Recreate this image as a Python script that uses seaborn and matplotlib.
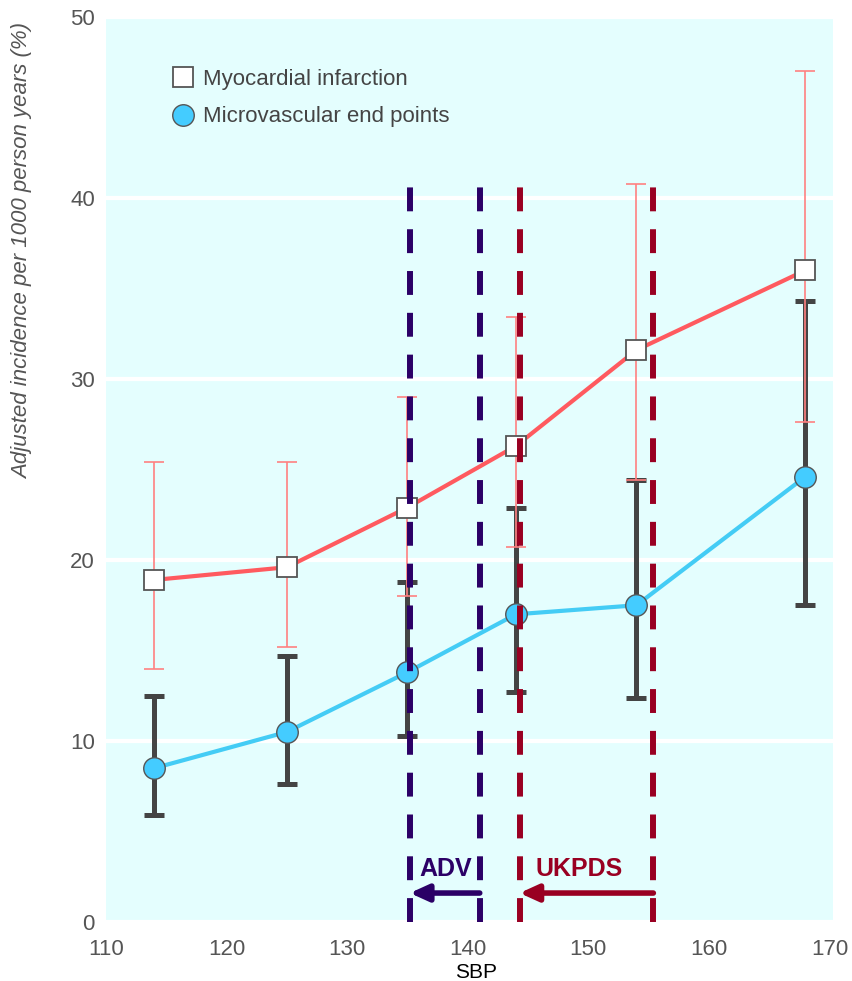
import pandas as pd
import matplotlib.pyplot as plt
import seaborn as sns

# values
sbp = [114, 125, 135, 144, 154, 168]
mi = [18.9, 19.6, 22.9, 26.3, 31.6, 36.0]
mi_low = [14.0, 15.2, 18.0, 20.7, 24.4, 27.6]
mi_high = [25.4, 25.4, 29.0, 33.4, 40.8, 47.0]
micro = [8.5, 10.5, 13.8, 17.0, 17.5, 24.6]
micro_low = [5.9, 7.6, 10.3, 12.7, 12.4, 17.5]
micro_high = [12.5, 14.7, 18.8, 22.9, 24.4, 34.3]

adv_range = [135.2, 141.0]
ukpds_range = [144.3, 155.4]

df = pd.DataFrame({'SBP': sbp, 'MI': mi, 'Micro': micro})

sns.set_style('white')
plt.rcParams['font.family'] = ['Liberation Sans', 'DejaVu Sans']

fig = plt.figure(figsize=(8.52, 9.81), dpi=100)
ax = fig.add_axes([106 / 852, 1 - 922 / 981, 727 / 852, 905 / 981])
ax.set_facecolor('#e4fefe')

# error bars
ax.errorbar(sbp, micro, yerr=[[m - l for m, l in zip(micro, micro_low)],
                              [h - m for m, h in zip(micro, micro_high)]],
            fmt='none', ecolor='#444444', elinewidth=3.6, capsize=7.5, capthick=3.6, zorder=3)
ax.errorbar(sbp, mi, yerr=[[m - l for m, l in zip(mi, mi_low)],
                           [h - m for m, h in zip(mi, mi_high)]],
            fmt='none', ecolor='#ff8080', elinewidth=1.2, capsize=7.5, capthick=1.2, zorder=4)

# lines and markers
sns.lineplot(data=df, x='SBP', y='MI', ax=ax, color='#ff5a5f', lw=3, zorder=5,
             marker='s', markersize=14, markerfacecolor='white', markeredgecolor='#555555',
             markeredgewidth=1.3, label='Myocardial infarction')
sns.lineplot(data=df, x='SBP', y='Micro', ax=ax, color='#44ccf5', lw=3, zorder=5,
             marker='o', markersize=15.5, markerfacecolor='#44ccff', markeredgecolor='#555555',
             markeredgewidth=1.0, label='Microvascular end points')

# dashed range lines
for xv in adv_range:
    ax.vlines(xv, 0, 40.6, colors='#2b0066', lw=4.3, linestyles=(0, (4, 3)), zorder=7)
for xv in ukpds_range:
    ax.vlines(xv, 0, 40.6, colors='#990022', lw=4.3, linestyles=(0, (4, 3)), zorder=7)

ax.annotate('', xy=(adv_range[0], 1.6), xytext=(adv_range[1], 1.6),
            arrowprops=dict(arrowstyle='-|>,head_length=1.1,head_width=0.5',
                            color='#2b0066', lw=4, shrinkA=0, shrinkB=0), zorder=8)
ax.annotate('', xy=(ukpds_range[0], 1.6), xytext=(ukpds_range[1], 1.6),
            arrowprops=dict(arrowstyle='-|>,head_length=1.1,head_width=0.5',
                            color='#990022', lw=4, shrinkA=0, shrinkB=0), zorder=8)
ax.text(sum(adv_range) / 2 + 0.1, 2.95, 'ADV', color='#2b0066', fontsize=18, fontweight='bold',
        ha='center', va='center', zorder=8)
ax.text(sum(ukpds_range) / 2 - 0.6, 2.95, 'UKPDS', color='#990022', fontsize=18, fontweight='bold',
        ha='center', va='center', zorder=8)

ax.set_xlim(110, 170.3)
ax.set_ylim(0, 50)
ax.set_xticks(range(110, 171, 10))
ax.set_yticks(range(0, 51, 10))
ax.grid(axis='y', color='white', lw=3)
ax.set_axisbelow(True)
for s in ax.spines.values():
    s.set_visible(False)
ax.tick_params(axis='x', direction='in', color='white', length=7, width=3,
               labelsize=16, labelcolor='#555555', pad=12)
ax.tick_params(axis='y', length=0, labelsize=16, labelcolor='#555555', pad=8)

ax.set_xlabel('SBP', fontsize=15, color='black')
ax.xaxis.set_label_coords(0.509, -0.045)
ax.set_ylabel('Adjusted incidence per 1000 person years (%)', fontsize=16,
              color='#555555', style='italic')
ax.yaxis.set_label_coords(-0.100, 0.741)

leg = ax.legend(loc='upper left', bbox_to_anchor=(0.065, 0.965), frameon=False, fontsize=16,
                handlelength=0.9, handletextpad=0.45, labelspacing=0.75, labelcolor='#444444')
for h in leg.legend_handles:
    h.set_linestyle('none')

fig.savefig('out.png', dpi=100)
